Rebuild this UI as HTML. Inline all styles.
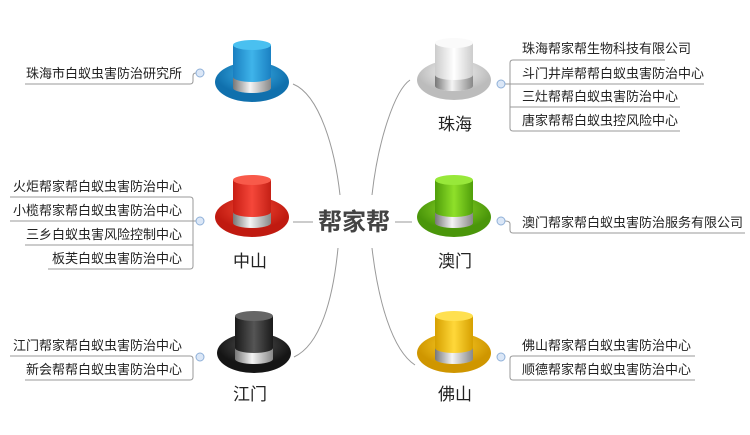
<!DOCTYPE html>
<html><head><meta charset="utf-8"><style>
html,body{margin:0;padding:0;background:#fff;}
svg{display:block;}
text{font-family:"Liberation Sans","Noto Sans CJK SC",sans-serif;fill:#222;}
</style></head><body>
<svg width="750" height="435" viewBox="0 0 750 435" xmlns="http://www.w3.org/2000/svg">
<defs>
<linearGradient id="band" x1="0" x2="1"><stop offset="0" stop-color="#777"/><stop offset=".45" stop-color="#f4f4f4"/><stop offset="1" stop-color="#888"/></linearGradient>
<linearGradient id="cb" x1="0" x2="1"><stop offset="0" stop-color="#1a7fc0"/><stop offset=".5" stop-color="#3fb4ea"/><stop offset="1" stop-color="#1a80c2"/></linearGradient>
<radialGradient id="bb" cy=".3"><stop offset="0" stop-color="#3cb0e8"/><stop offset="1" stop-color="#1070ad"/></radialGradient>
<linearGradient id="cr" x1="0" x2="1"><stop offset="0" stop-color="#c81e14"/><stop offset=".5" stop-color="#f5473a"/><stop offset="1" stop-color="#c42015"/></linearGradient>
<radialGradient id="br" cy=".3"><stop offset="0" stop-color="#f44a36"/><stop offset="1" stop-color="#c01a10"/></radialGradient>
<linearGradient id="ck" x1="0" x2="1"><stop offset="0" stop-color="#1a1a1a"/><stop offset=".5" stop-color="#555"/><stop offset="1" stop-color="#1a1a1a"/></linearGradient>
<radialGradient id="bk" cy=".3"><stop offset="0" stop-color="#555"/><stop offset="1" stop-color="#151515"/></radialGradient>
<linearGradient id="cw" x1="0" x2="1"><stop offset="0" stop-color="#ccc"/><stop offset=".5" stop-color="#fff"/><stop offset="1" stop-color="#ccc"/></linearGradient>
<radialGradient id="bw" cy=".3"><stop offset="0" stop-color="#f8f8f8"/><stop offset="1" stop-color="#bcbcbc"/></radialGradient>
<linearGradient id="cg" x1="0" x2="1"><stop offset="0" stop-color="#4f9e0a"/><stop offset=".5" stop-color="#8fe02a"/><stop offset="1" stop-color="#4f9e0a"/></linearGradient>
<radialGradient id="bg" cy=".3"><stop offset="0" stop-color="#8ed82a"/><stop offset="1" stop-color="#4a960a"/></radialGradient>
<linearGradient id="cy" x1="0" x2="1"><stop offset="0" stop-color="#d6a000"/><stop offset=".5" stop-color="#ffd83a"/><stop offset="1" stop-color="#d6a000"/></linearGradient>
<radialGradient id="by" cy=".3"><stop offset="0" stop-color="#fcd02a"/><stop offset="1" stop-color="#cf9600"/></radialGradient>
</defs>

<g fill="none" stroke="#999" stroke-width="1">
<path d="M293 84 C320 95 335 150 340 195"/>
<path d="M410 80 C395 90 378 140 372 195"/>
<path d="M293 222 H313"/>
<path d="M395 222 H412"/>
<path d="M338 248 C333 300 320 345 294 357"/>
<path d="M372 248 C378 300 392 350 415 365"/>
</g>

<g transform="translate(252,82)"><ellipse rx="37" ry="20" fill="url(#bb)"/><path d="M-19 -37 L-19 6 A19 5 0 0 0 19 6 L19 -37Z" fill="url(#cb)"/><path d="M-19 -5 L-19 6 A19 5 0 0 0 19 6 L19 -5 A19 5 0 0 1 -19 -5Z" fill="url(#band)"/><ellipse cy="-37" rx="19" ry="5" fill="#4ac0f0"/></g>
<g transform="translate(252,217)"><ellipse rx="37" ry="20" fill="url(#br)"/><path d="M-19 -37 L-19 6 A19 5 0 0 0 19 6 L19 -37Z" fill="url(#cr)"/><path d="M-19 -5 L-19 6 A19 5 0 0 0 19 6 L19 -5 A19 5 0 0 1 -19 -5Z" fill="url(#band)"/><ellipse cy="-37" rx="19" ry="5" fill="#f85a4a"/></g>
<g transform="translate(254,353)"><ellipse rx="37" ry="20" fill="url(#bk)"/><path d="M-19 -37 L-19 6 A19 5 0 0 0 19 6 L19 -37Z" fill="url(#ck)"/><path d="M-19 -5 L-19 6 A19 5 0 0 0 19 6 L19 -5 A19 5 0 0 1 -19 -5Z" fill="url(#band)"/><ellipse cy="-37" rx="19" ry="5" fill="#666"/></g>
<g transform="translate(454,80)"><ellipse rx="37" ry="20" fill="url(#bw)"/><path d="M-19 -37 L-19 6 A19 5 0 0 0 19 6 L19 -37Z" fill="url(#cw)"/><path d="M-19 -5 L-19 6 A19 5 0 0 0 19 6 L19 -5 A19 5 0 0 1 -19 -5Z" fill="url(#band)"/><ellipse cy="-37" rx="19" ry="5" fill="#fafafa"/></g>
<g transform="translate(454,217)"><ellipse rx="37" ry="20" fill="url(#bg)"/><path d="M-19 -37 L-19 6 A19 5 0 0 0 19 6 L19 -37Z" fill="url(#cg)"/><path d="M-19 -5 L-19 6 A19 5 0 0 0 19 6 L19 -5 A19 5 0 0 1 -19 -5Z" fill="url(#band)"/><ellipse cy="-37" rx="19" ry="5" fill="#98e83a"/></g>
<g transform="translate(454,353)"><ellipse rx="37" ry="20" fill="url(#by)"/><path d="M-19 -37 L-19 6 A19 5 0 0 0 19 6 L19 -37Z" fill="url(#cy)"/><path d="M-19 -5 L-19 6 A19 5 0 0 0 19 6 L19 -5 A19 5 0 0 1 -19 -5Z" fill="url(#band)"/><ellipse cy="-37" rx="19" ry="5" fill="#ffe050"/></g>

<text x="354" y="230" font-size="24" font-weight="bold" text-anchor="middle" style="fill:#444">帮家帮</text>
<g font-size="17" text-anchor="middle" style="fill:#333">
<text x="455" y="130">珠海</text>
<text x="250" y="267">中山</text>
<text x="455" y="267">澳门</text>
<text x="250" y="400">江门</text>
<text x="455" y="400">佛山</text>
</g>

<g fill="none" stroke="#999" stroke-width="1">
<path d="M25 84 H190 Q193 84 193 81 V76 Q193 73 196 73"/>
<path d="M10 197 H190 Q193 197 193 200 V266 Q193 269 190 269 H48"/>
<path d="M10 221 H196"/><path d="M25 245 H193"/>
<path d="M10 356 H190 Q193 356 193 359 V377 Q193 380 190 380 H25"/>
<path d="M665 60 H513 Q510 60 510 63 V128 Q510 131 513 131 H680"/>
<path d="M505 84 H704"/><path d="M510 107 H680"/>
<path d="M505 221 Q510 221 510 224 V230 Q510 233 513 233 H745"/>
<path d="M695 356 H513 Q510 356 510 359 V377 Q510 380 513 380 H695"/>
</g>
<g fill="#dbe7f7" stroke="#8fb0d8" stroke-width="1">
<circle cx="200" cy="73" r="4"/><circle cx="200" cy="221" r="4"/><circle cx="200" cy="357" r="4"/>
<circle cx="501" cy="84" r="4"/><circle cx="501" cy="221" r="4"/><circle cx="501" cy="357" r="4"/>
</g>

<g font-size="13">
<text x="182" y="78" text-anchor="end">珠海市白蚁虫害防治研究所</text>
<text x="182" y="191" text-anchor="end">火炬帮家帮白蚁虫害防治中心</text>
<text x="182" y="215" text-anchor="end">小榄帮家帮白蚁虫害防治中心</text>
<text x="182" y="239" text-anchor="end">三乡白蚁虫害风险控制中心</text>
<text x="182" y="263" text-anchor="end">板芙白蚁虫害防治中心</text>
<text x="182" y="350" text-anchor="end">江门帮家帮白蚁虫害防治中心</text>
<text x="182" y="374" text-anchor="end">新会帮帮白蚁虫害防治中心</text>
<text x="522" y="53">珠海帮家帮生物科技有限公司</text>
<text x="522" y="78">斗门井岸帮帮白蚁虫害防治中心</text>
<text x="522" y="101">三灶帮帮白蚁虫害防治中心</text>
<text x="522" y="125">唐家帮帮白蚁虫控风险中心</text>
<text x="522" y="227">澳门帮家帮白蚁虫害防治服务有限公司</text>
<text x="522" y="350">佛山帮家帮白蚁虫害防治中心</text>
<text x="522" y="374">顺德帮家帮白蚁虫害防治中心</text>
</g>
</svg>
</body></html>
